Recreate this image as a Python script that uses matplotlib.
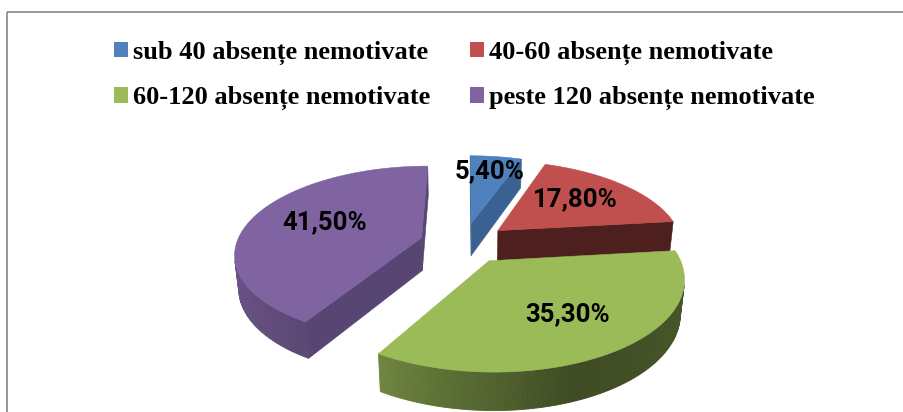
import numpy as np
import matplotlib
matplotlib.use("Agg")
import matplotlib.pyplot as plt
from matplotlib.patches import Polygon, Patch, Rectangle

# --- data ----------------------------------------------------------------

categories = [
    "sub 40 absențe nemotivate",
    "40-60 absențe nemotivate",
    "60-120 absențe nemotivate",
    "peste 120 absențe nemotivate",
]
values = [5.4, 17.8, 35.3, 41.5]
colors = ["#4F81BD", "#C0504D", "#9BBB59", "#8064A2"]
cut_colors = ["#3A6191", "#4E1F1F", "#4A5E2A", "#574573"]

# --- 3d pie layout --------------------------------------------------------

W, H_PX = 904, 412
S = 185.0                 # px per unit radius
CX, CY = 464.0, 243.0     # projected pie centre
ELEV = np.radians(27.5)   # camera elevation
DIST = 5.2                # camera distance (radius units)
THICK = 0.205             # slice thickness
EXPLODE = 0.24
LABEL_R = [0.71, 0.60, 0.66, 0.57]
LABEL_DY = -3

CAM = np.array([0.0, -DIST * np.cos(ELEV), DIST * np.sin(ELEV)])

# wall shading vs. angle (clockwise from 12 o'clock)
SHADE_ANG = [0, 100, 160, 212, 270, 360]
SHADE_VAL = [0.60, 0.47, 0.40, 0.72, 0.87, 0.80]


def project(x, y, z):
    v = y * np.sin(ELEV) + z * np.cos(ELEV)
    d = -y * np.cos(ELEV) + z * np.sin(ELEV)
    k = DIST / (DIST - d)
    return CX + S * x * k, CY - S * v * k


def shade(color, f):
    rgb = np.array(matplotlib.colors.to_rgb(color))
    return tuple(np.clip(rgb * f, 0, 1))


def visible(normal, point):
    return np.dot(normal, CAM - np.asarray(point)) > 0


def rim(ox, oy, phi, z):
    return (ox + np.sin(phi), oy + np.cos(phi), z)


fig = plt.figure(figsize=(W / 100, H_PX / 100), dpi=100)
ax = fig.add_axes([0, 0, 1, 1])
ax.set_xlim(0, W)
ax.set_ylim(H_PX, 0)
ax.axis("off")

# chart border (runs off the right and bottom edges)
ax.add_patch(Rectangle((7.5, 12), 1000, 500, fill=False,
                       edgecolor="#868686", linewidth=1.2))

total = sum(values)
bounds = np.concatenate([[0], np.cumsum(values)]) / total * 2 * np.pi
slices = []
for i in range(len(values)):
    a0, a1 = bounds[i], bounds[i + 1]
    am = (a0 + a1) / 2
    ox, oy = EXPLODE * np.sin(am), EXPLODE * np.cos(am)
    slices.append((oy, i, a0, a1, am, ox))

# back slices first
for oy, i, a0, a1, am, ox in sorted(slices, reverse=True):
    col = colors[i]
    zb = -THICK

    # flat cut faces
    for a, sgn in ((a0, -1), (a1, 1)):
        n = np.array([np.sin(a + sgn * np.pi / 2), np.cos(a + sgn * np.pi / 2), 0])
        mid = (ox + 0.5 * np.sin(a), oy + 0.5 * np.cos(a), zb / 2)
        if visible(n, mid):
            pts = [(ox, oy, 0), rim(ox, oy, a, 0), rim(ox, oy, a, zb), (ox, oy, zb)]
            xy = [project(*p) for p in pts]
            ax.add_patch(Polygon(xy, closed=True, facecolor=cut_colors[i],
                                 edgecolor=cut_colors[i], linewidth=0.4))

    # outer wall
    phis = np.linspace(a0, a1, 120)
    for p0, p1 in zip(phis[:-1], phis[1:]):
        pm = (p0 + p1) / 2
        n = np.array([np.sin(pm), np.cos(pm), 0])
        if not visible(n, rim(ox, oy, pm, zb / 2)):
            continue
        f = np.interp(np.degrees(pm), SHADE_ANG, SHADE_VAL)
        c = shade(col, f)
        xy = [project(*rim(ox, oy, p0, 0)), project(*rim(ox, oy, p1, 0)),
              project(*rim(ox, oy, p1, zb)), project(*rim(ox, oy, p0, zb))]
        ax.add_patch(Polygon(xy, closed=True, facecolor=c, edgecolor=c,
                             linewidth=0.6))

    # top surface
    top = [project(ox, oy, 0)] + [project(*rim(ox, oy, p, 0)) for p in phis]
    ax.add_patch(Polygon(top, closed=True, facecolor=col, edgecolor=col,
                         linewidth=0.4))

# percentage labels
for oy, i, a0, a1, am, ox in slices:
    r = LABEL_R[i]
    x, y = project(ox + r * np.sin(am), oy + r * np.cos(am), 0)
    txt = f"{values[i]:.2f}%".replace(".", ",")
    ax.text(x, y + LABEL_DY, txt, ha="center", va="center",
            fontsize=18.5, fontweight="bold", family="Roboto", color="black")

# legend: two rows, filled column-wise
order = [0, 2, 1, 3]
handles = [Patch(facecolor=colors[j], edgecolor="none") for j in order]
ax.legend(handles, [categories[j] for j in order], ncol=2,
          loc="upper left", bbox_to_anchor=(114 / W, 1 - 41 / H_PX),
          frameon=False, borderpad=0, borderaxespad=0,
          handlelength=0.53, handleheight=0.53, handletextpad=0.19,
          columnspacing=1.5, labelspacing=0.8,
          prop={"family": "Liberation Serif", "weight": "bold", "size": 19})

fig.savefig("out.png", dpi=100)
